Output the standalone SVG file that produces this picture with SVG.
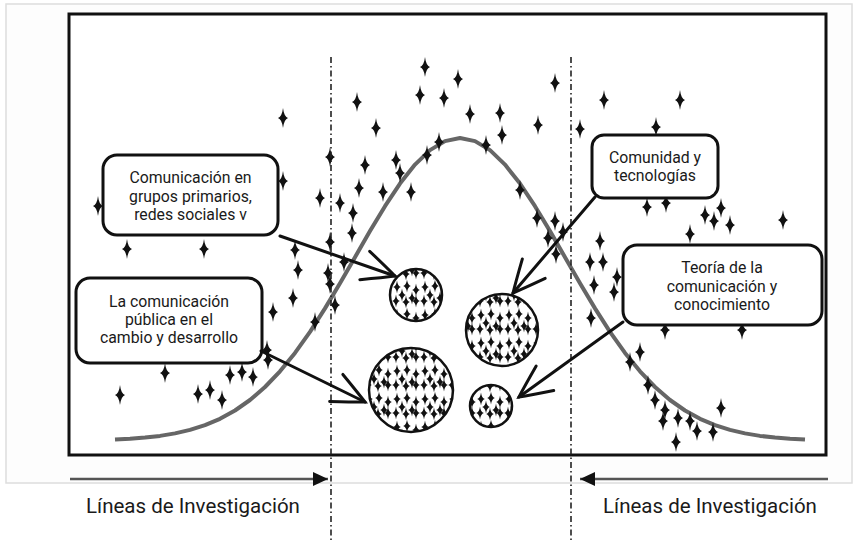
<svg xmlns="http://www.w3.org/2000/svg" xmlns:xlink="http://www.w3.org/1999/xlink" width="857" height="543" viewBox="0 0 857 543">
<style>
.box{fill:#fff;stroke:#111;stroke-width:3}
.bt{font-family:Roboto,"Liberation Sans",sans-serif;font-size:15.8px;fill:#1a1a1a;text-anchor:middle}
.lab{font-family:Roboto,"Liberation Sans",sans-serif;font-size:20.5px;fill:#1a1a1a;text-anchor:middle}
.dd{stroke:#222;stroke-width:1.6;stroke-dasharray:6 3 1.5 3;fill:none}
.arr{stroke:#111;stroke-width:3;fill:none;stroke-linecap:round}
.circ{stroke:#111;stroke-width:2.5}
.star{fill:#111}
</style>
<defs>
<path id="st" d="M0,-10 Q1,-1.5 5,0 Q1,1.5 0,10 Q-1,1.5 -5,0 Q-1,-1.5 0,-10Z"/>
<path id="ss" d="M0,-6.5 Q0.7,-1 3.8,0 Q0.7,1 0,6.5 Q-0.7,1 -3.8,0 Q-0.7,-1 0,-6.5Z"/>
<pattern id="pat" patternUnits="userSpaceOnUse" width="28" height="28">
<g fill="#111">
<use href="#ss" x="5" y="7"/><use href="#ss" x="15" y="6"/><use href="#ss" x="24" y="10"/>
<use href="#ss" x="10" y="15"/><use href="#ss" x="20" y="18"/><use href="#ss" x="4" y="21"/>
<use href="#ss" x="14" y="22"/><use href="#ss" x="24" y="21"/>
</g>
</pattern>
<marker id="oa" markerUnits="userSpaceOnUse" markerWidth="40" markerHeight="40" viewBox="-35 -20 40 40" refX="0" refY="0" orient="auto" overflow="visible">
<path d="M-32,-15 Q-10,-5 0,0 Q-10,5 -32,15" fill="none" stroke="#111" stroke-width="3" stroke-linecap="round"/>
</marker>
<marker id="ft" markerUnits="userSpaceOnUse" markerWidth="16" markerHeight="14" viewBox="-15 -7 16 14" refX="0" refY="0" orient="auto" overflow="visible">
<path d="M-15,-7 L0,0 L-15,7Z" fill="#111"/>
</marker>
</defs>
<rect x="0" y="0" width="857" height="543" fill="#fff"/>
<rect x="6" y="4" width="846" height="479" fill="#fdfdfd" stroke="#ddd" stroke-width="1.5"/>
<rect id="frame" x="69" y="14" width="757" height="441" fill="#fff" stroke="#111" stroke-width="3"/>

<polyline id="curve" fill="none" stroke="#666" stroke-width="4" stroke-linejoin="round" points="115,439.6 130,438.8 145,437.6 160,435.9 175,433.4 190,429.9 205,425.1 220,418.8 235,410.5 250,400 265,387 280,371.3 295,352.9 310,331.8 325,308.4 340,283.3 355,257.2 370,231.1 385,206.2 400,183.6 415,164.6 430,150.1 445,141.1 460,138 475,141.1 490,150.1 505,164.6 520,183.6 535,206.2 550,231.1 565,257.2 580,283.3 595,308.4 610,331.8 625,352.9 640,371.3 655,387 670,400 685,410.5 700,418.8 715,425.1 730,429.9 745,433.4 760,435.9 775,437.6 790,438.8 805,439.6"/>

<g id="stars" class="star">
<use href="#st" x="425" y="67"/><use href="#st" x="458" y="79"/><use href="#st" x="357" y="102"/>
<use href="#st" x="420" y="95"/><use href="#st" x="444" y="98"/><use href="#st" x="376" y="128"/>
<use href="#st" x="470" y="114"/><use href="#st" x="500" y="113"/><use href="#st" x="502" y="135"/>
<use href="#st" x="538" y="125"/><use href="#st" x="555" y="83"/><use href="#st" x="580" y="129"/>
<use href="#st" x="439" y="142"/><use href="#st" x="486" y="145"/><use href="#st" x="427" y="155"/>
<use href="#st" x="330" y="157"/><use href="#st" x="283" y="118"/><use href="#st" x="604" y="100"/>
<use href="#st" x="680" y="100"/><use href="#st" x="656" y="127"/>
<use href="#st" x="283" y="181"/><use href="#st" x="98" y="206"/><use href="#st" x="320" y="198"/>
<use href="#st" x="340" y="203"/><use href="#st" x="353" y="213"/><use href="#st" x="359" y="188"/>
<use href="#st" x="383" y="192"/><use href="#st" x="352" y="233"/><use href="#st" x="127" y="249"/>
<use href="#st" x="204" y="249"/><use href="#st" x="295" y="250"/><use href="#st" x="330" y="242"/>
<use href="#st" x="298" y="270"/><use href="#st" x="328" y="273"/><use href="#st" x="330" y="284"/>
<use href="#st" x="293" y="298"/><use href="#st" x="273" y="312"/><use href="#st" x="267" y="350"/>
<use href="#st" x="268" y="360"/><use href="#st" x="165" y="373"/><use href="#st" x="230" y="375"/>
<use href="#st" x="242" y="372"/><use href="#st" x="253" y="377"/><use href="#st" x="365" y="165"/>
<use href="#st" x="396" y="160"/><use href="#st" x="400" y="173"/><use href="#st" x="120" y="395"/>
<use href="#st" x="198" y="394"/><use href="#st" x="210" y="390"/><use href="#st" x="222" y="400"/>
<use href="#st" x="315" y="322"/><use href="#st" x="335" y="305"/>
<use href="#st" x="666" y="203"/><use href="#st" x="647" y="207"/><use href="#st" x="617" y="277"/>
<use href="#st" x="614" y="292"/><use href="#st" x="665" y="330"/><use href="#st" x="742" y="330"/>
<use href="#st" x="705" y="215"/><use href="#st" x="714" y="221"/><use href="#st" x="721" y="208"/>
<use href="#st" x="730" y="225"/><use href="#st" x="783" y="220"/><use href="#st" x="690" y="234"/>
<use href="#st" x="600" y="241"/><use href="#st" x="590" y="262"/><use href="#st" x="603" y="262"/>
<use href="#st" x="594" y="285"/><use href="#st" x="591" y="318"/>
<use href="#st" x="640" y="352"/><use href="#st" x="630" y="362"/><use href="#st" x="648" y="385"/>
<use href="#st" x="655" y="400"/><use href="#st" x="665" y="410"/><use href="#st" x="663" y="421"/>
<use href="#st" x="678" y="418"/><use href="#st" x="690" y="421"/><use href="#st" x="697" y="431"/>
<use href="#st" x="713" y="432"/><use href="#st" x="721" y="408"/><use href="#st" x="676" y="442"/>
<use href="#st" x="537" y="218"/><use href="#st" x="548" y="238"/><use href="#st" x="555" y="221"/>
<use href="#st" x="563" y="232"/><use href="#st" x="556" y="254"/><use href="#st" x="520" y="190"/>
<use href="#st" x="344" y="262"/><use href="#st" x="411" y="192"/>
</g>

<line class="dd" x1="331" y1="57" x2="331" y2="543"/>
<line class="dd" x1="571" y1="57" x2="571" y2="543"/>

<g id="n1">
<rect class="box" x="103" y="155" width="175" height="80" rx="14"/>
<text class="bt" x="190.5" y="183">Comunicación en</text>
<text class="bt" x="190.5" y="201.5">grupos primarios,</text>
<text class="bt" x="190.5" y="220">redes sociales v</text>
</g>
<g id="n2">
<rect class="box" x="76" y="278" width="186" height="85" rx="14"/>
<text class="bt" x="169" y="307">La comunicación</text>
<text class="bt" x="169" y="325">pública en el</text>
<text class="bt" x="169" y="343">cambio y desarrollo</text>
</g>
<g id="n3">
<rect class="box" x="592" y="135" width="126" height="63" rx="12"/>
<text class="bt" x="655" y="163">Comunidad y</text>
<text class="bt" x="655" y="181">tecnologías</text>
</g>
<g id="n4">
<rect class="box" x="623" y="245" width="199" height="80" rx="14"/>
<text class="bt" x="722" y="273">Teoría de la</text>
<text class="bt" x="722" y="292">comunicación y</text>
<text class="bt" x="722" y="310">conocimiento</text>
</g>

<g id="c1"><circle cx="416" cy="295" r="26" fill="#fff"/><circle class="circ" cx="416" cy="295" r="26" fill="url(#pat)"/></g>
<g id="c2"><circle cx="502" cy="330" r="36" fill="#fff"/><circle class="circ" cx="502" cy="330" r="36" fill="url(#pat)"/></g>
<g id="c3"><circle cx="411" cy="390" r="42" fill="#fff"/><circle class="circ" cx="411" cy="390" r="42" fill="url(#pat)"/></g>
<g id="c4"><circle cx="491" cy="406" r="21" fill="#fff"/><circle class="circ" cx="491" cy="406" r="21" fill="url(#pat)"/></g>

<g id="connectors">
<line class="arr" x1="280" y1="236" x2="395" y2="276" marker-end="url(#oa)"/>
<line class="arr" x1="595" y1="197" x2="513" y2="293" marker-end="url(#oa)"/>
<line class="arr" x1="261" y1="351" x2="365" y2="402" marker-end="url(#oa)"/>
<line class="arr" x1="623" y1="322" x2="519" y2="397" marker-end="url(#oa)"/>
<line stroke="#555" stroke-width="2.5" x1="70" y1="479" x2="328" y2="479" marker-end="url(#ft)"/>
<line stroke="#555" stroke-width="2.5" x1="828" y1="479" x2="580" y2="479" marker-end="url(#ft)"/>
</g>

<text class="lab" x="193" y="513">Líneas de Investigación</text>
<text class="lab" x="710" y="513">Líneas de Investigación</text>
</svg>
